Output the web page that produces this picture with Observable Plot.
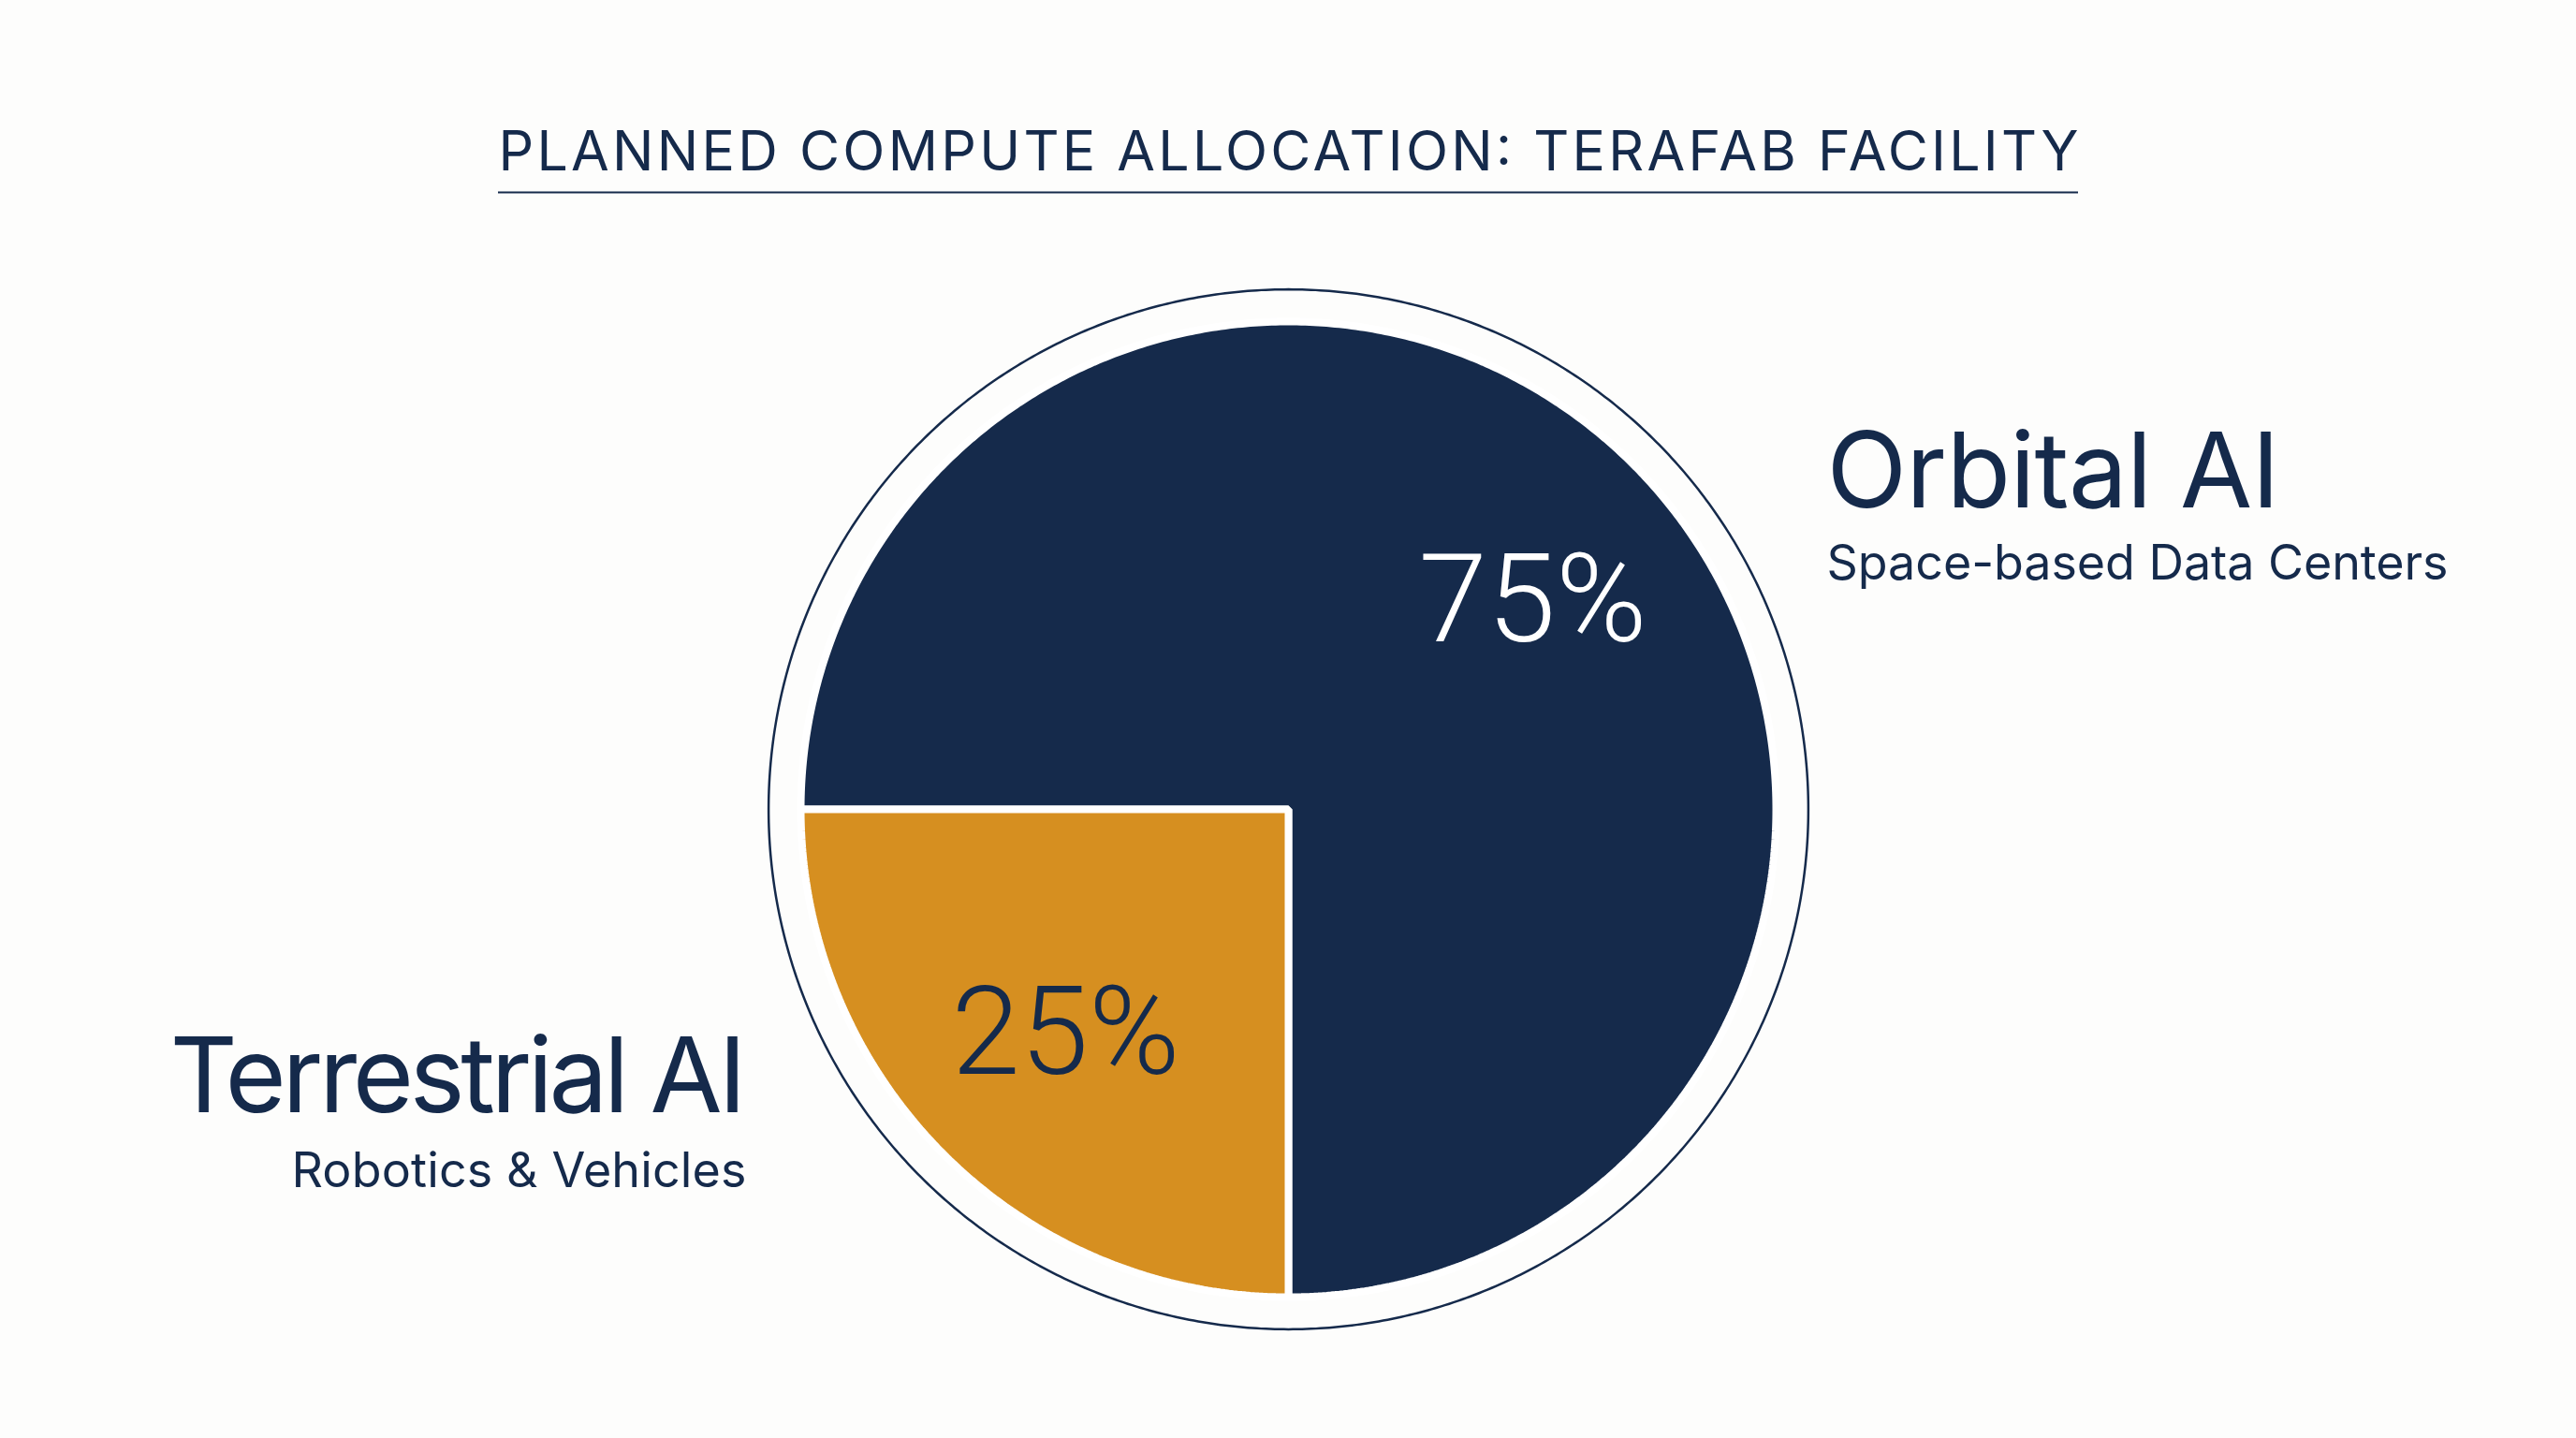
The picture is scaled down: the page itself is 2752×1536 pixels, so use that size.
<!DOCTYPE html>
<html>
<head>
<meta charset="utf-8">
<script src="https://cdn.jsdelivr.net/npm/d3@7"></script>
<script src="https://cdn.jsdelivr.net/npm/@observablehq/plot@0.6"></script>
<style>
  html, body { margin: 0; padding: 0; background: #fdfdfc; }
  #chart { width: 2752px; height: 1536px; }
  svg { display: block; }
</style>
</head>
<body>
<div id="chart"></div>
<script>
// ---- data ----
const categories = ["Orbital AI", "Terrestrial AI"];
const shares = [75, 25];
const subtitles = ["Space-based Data Centers", "Robotics & Vehicles"];
const shareLabels = ["75%", "25%"];
const sliceColors = ["#152a4b", "#d68f20"];
const titleText = "PLANNED COMPUTE ALLOCATION: TERAFAB FACILITY";

// ---- layout (pixels) ----
const W = 2752, H = 1536;
const CX = 1376, CY = 864, R = 521;      // pie centre & radius
const ink = "#152a4b";
const font = "Inter, 'Noto Sans', sans-serif";
const pctFont = "Roboto, Inter, sans-serif";

// unit helpers: positions in pie-radius units
const ux = px => (px - CX) / R;
const uy = py => (CY - py) / R;

// pie geometry from the data
const arcs = d3.pie().sort(null).startAngle(-Math.PI / 2).endAngle(1.5 * Math.PI)(shares);
function slicePoints(a, i) {
  const n = Math.max(2, Math.ceil((a.endAngle - a.startAngle) / (Math.PI / 360)));
  const pts = [{x: 0, y: 0, k: i}];
  for (let j = 0; j <= n; j++) {
    const t = a.startAngle + (a.endAngle - a.startAngle) * j / n;
    pts.push({x: Math.sin(t), y: Math.cos(t), k: i});
  }
  pts.push({x: 0, y: 0, k: i});
  return pts;
}
const ringR = 1.066;
const ring = d3.range(0, 721).map(j => {
  const t = j / 720 * 2 * Math.PI;
  return {x: ringR * Math.sin(t), y: ringR * Math.cos(t)};
});

const pctPos = [{x: ux(1637), y: uy(684), fill: "#ffffff"}, {x: ux(1138), y: uy(1146), fill: ink}];
const catPos = [
  {x: ux(1951), y: uy(541), anchor: "start", sy: uy(618), len: 484, slen: 664},
  {x: ux(797), y: uy(1187), anchor: "end", sy: uy(1267), len: 616, slen: 486}
];

const marks = [];
arcs.forEach((a, i) => {
  marks.push(Plot.line(slicePoints(a, i), {
    x: "x", y: "y", fill: sliceColors[i], stroke: "#ffffff", strokeWidth: 8,
    strokeLinejoin: "miter", curve: "linear-closed"
  }));
});
marks.push(Plot.line(ring, {x: "x", y: "y", stroke: ink, strokeWidth: 2.5, curve: "linear-closed"}));

// labels
shares.forEach((v, i) => {
  marks.push(Plot.text([shareLabels[i]], {
    x: pctPos[i].x, y: pctPos[i].y, text: d => d, fill: pctPos[i].fill,
    fontSize: 132, fontWeight: 300, textAnchor: "middle", lineAnchor: "bottom", fontFamily: pctFont
  }));
  marks.push(Plot.text([categories[i]], {
    x: catPos[i].x, y: catPos[i].y, text: d => d, fill: ink,
    fontSize: 112, fontWeight: 400, textAnchor: catPos[i].anchor, lineAnchor: "bottom", fontFamily: font,
    className: "fit", ariaDescription: String(catPos[i].len)
  }));
  marks.push(Plot.text([subtitles[i]], {
    x: catPos[i].x, y: catPos[i].sy, text: d => d, fill: ink,
    fontSize: 52, fontWeight: 400, textAnchor: catPos[i].anchor, lineAnchor: "bottom", fontFamily: font,
    className: "fit", ariaDescription: String(catPos[i].slen)
  }));
});

// title + underline
marks.push(Plot.text([titleText], {
  x: 0, y: uy(181), text: d => d, fill: ink, fontSize: 59, fontWeight: 400,
  textAnchor: "middle", lineAnchor: "bottom", fontFamily: font,
  className: "fit", ariaDescription: "1688"
}));
marks.push(Plot.ruleY([uy(205)], {x1: ux(532), x2: ux(2220), stroke: ink, strokeWidth: 2}));

const chart = Plot.plot({
  width: W, height: H,
  margin: 0,
  style: {background: "#fdfdfc", fontFamily: font},
  x: {type: "linear", domain: [-1, 1], range: [CX - R, CX + R], axis: null},
  y: {type: "linear", domain: [-1, 1], range: [CY + R, CY - R], axis: null},
  marks
});
document.getElementById("chart").appendChild(chart);

// fit each label's letter spacing to the width measured on the reference
chart.querySelectorAll("g.fit").forEach(g => {
  const len = g.getAttribute("aria-description");
  g.querySelectorAll("text").forEach(t => {
    if (len) {
      t.setAttribute("textLength", len);
      t.setAttribute("lengthAdjust", "spacing");
    }
  });
});
</script>
</body>
</html>
